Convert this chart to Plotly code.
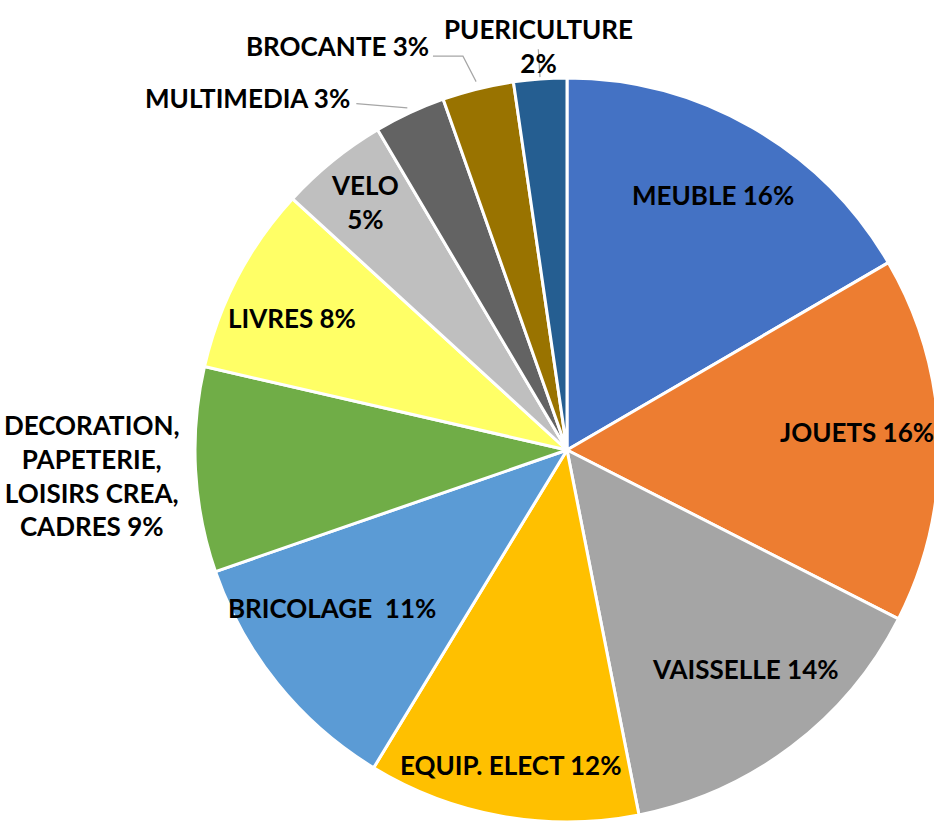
import math
import plotly.graph_objects as go

categories = ["MEUBLE", "JOUETS", "VAISSELLE", "EQUIP. ELECT", "BRICOLAGE",
              "DECORATION, PAPETERIE, LOISIRS CREA, CADRES", "LIVRES", "VELO",
              "MULTIMEDIA", "BROCANTE", "PUERICULTURE"]
values = [16.6, 15.9, 14.4, 11.8, 11.0, 8.9, 8.2, 4.7, 3.1, 3.1, 2.3]
label_texts = ["MEUBLE 16%", "JOUETS 16%", "VAISSELLE 14%", "EQUIP. ELECT 12%",
               "BRICOLAGE  11%", "DECORATION,<br>PAPETERIE,<br>LOISIRS CREA,<br>CADRES 9%",
               "LIVRES 8%", "VELO<br>5%", "MULTIMEDIA 3%", "BROCANTE 3%",
               "PUERICULTURE<br>2%"]
colors = ["#4472C4", "#ED7D31", "#A5A5A5", "#FFC000", "#5B9BD5", "#70AD47",
          "#FFFF66", "#BFBFBF", "#636363", "#997300", "#255E91"]

FONT = "Lato"
FSIZE = 26
L, T, P = 195, 78, 744  # margins and plot size (px)
R = P / 2

fig = go.Figure(go.Pie(
    labels=categories, values=values, sort=False, direction="clockwise",
    rotation=0, marker=dict(colors=colors, line=dict(color="white", width=3)),
    textinfo="none", hoverinfo="label+percent", showlegend=False,
    domain=dict(x=[0, 1], y=[0, 1]),
))

total = sum(values)
mids = []
acc = 0
for v in values:
    mids.append((acc + v / 2) / total * 360)
    acc += v


def polar(a_deg, rf):
    a = math.radians(a_deg)
    dx = rf * R * math.sin(a)
    dy = -rf * R * math.cos(a)
    return 0.5 + dx / P, 0.5 - dy / P


# inside / free labels: (angle offset, radius factor)
place = {0: (0, 0.79), 1: (-2, 0.78), 2: (-2, 0.76), 3: (0, 0.86), 4: (5, 0.76),
         5: (0, 1.28), 6: (-2, 0.82), 7: (0, 0.86)}
annots = []
for i, (da, rf) in place.items():
    x, y = polar(mids[i] + da, rf)
    annots.append(dict(x=x, y=y, xref="paper", yref="paper", text=label_texts[i],
                       showarrow=False, xanchor="center", yanchor="middle",
                       align="center"))

# outside labels with leader lines: (start rf, elbow angle, elbow rf, horiz px, text dx, text dy, xanchor)
outside = {8: (1.015, 328.7, 1.09, 0, -4, 6, "right"),
           9: (1.02, 345.2, 1.095, -30, -2, 10, "right"),
           10: (1.005, 355.9, 1.08, 0, 0, 3, "center")}
shapes = []
for i, (rs, ea, er, hz, tdx, tdy, xa) in outside.items():
    x0, y0 = polar(mids[i], rs)
    x1, y1 = polar(ea, er)
    x2, y2 = x1 + hz / P, y1
    shapes.append(dict(type="path", xref="paper", yref="paper",
                       path=f"M {x0},{y0} L {x1},{y1} L {x2},{y2}",
                       line=dict(color="#A6A6A6", width=1.2)))
    annots.append(dict(x=x2, y=y2, xref="paper", yref="paper", text=label_texts[i],
                       showarrow=False, xanchor=xa, yanchor="middle", align="center",
                       xshift=tdx, yshift=tdy))

fig.update_layout(
    width=L + P + 1, height=T + P,
    margin=dict(l=L, t=T, r=1, b=0, pad=0),
    paper_bgcolor="white", plot_bgcolor="white",
    font=dict(family=FONT, size=FSIZE, color="black", weight="bold"),
    annotations=annots, shapes=shapes,
)

fig.write_html("out.html", config={"displayModeBar": False},
               post_script="document.body.style.margin='0';document.body.style.overflow='hidden';document.documentElement.style.overflow='hidden';")
